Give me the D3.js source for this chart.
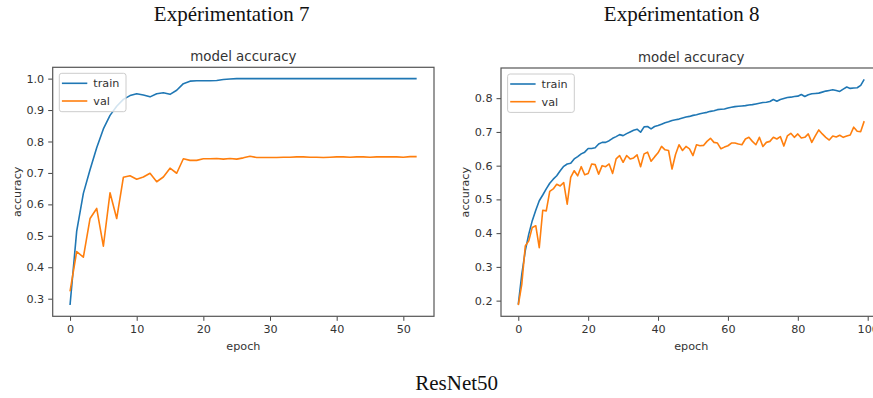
<!DOCTYPE html>
<html>
<head>
<meta charset="utf-8">
<script src="https://cdn.jsdelivr.net/npm/d3@7/dist/d3.min.js"></script>
<style>
  html, body { margin: 0; padding: 0; background: #fff; overflow: hidden; }
  svg { display: block; }
</style>
</head>
<body>
<svg id="chart" width="873" height="398"></svg>
<script>
// ---------- Data ----------
const exp7Train = [0.280, 0.515, 0.635, 0.710, 0.780, 0.840, 0.883, 0.912, 0.934, 0.946,
  0.952, 0.948, 0.942, 0.952, 0.955, 0.950, 0.963, 0.984, 0.992, 0.993,
  0.993, 0.993, 0.994, 0.997, 0.999, 1.000, 1.000, 1.000, 1.000, 1.000,
  1.000, 1.000, 1.000, 1.000, 1.000, 1.000, 1.000, 1.000, 1.000, 1.000,
  1.000, 1.000, 1.000, 1.000, 1.000, 1.000, 1.000, 1.000, 1.000, 1.000,
  1.000, 1.000, 1.000];
const exp7Val = [0.323, 0.450, 0.432, 0.555, 0.587, 0.467, 0.637, 0.555, 0.686, 0.691,
  0.680, 0.687, 0.699, 0.672, 0.687, 0.715, 0.699, 0.745, 0.740, 0.740,
  0.745, 0.745, 0.746, 0.744, 0.746, 0.744, 0.748, 0.753, 0.749, 0.749,
  0.749, 0.749, 0.750, 0.750, 0.751, 0.751, 0.750, 0.750, 0.749, 0.750,
  0.751, 0.751, 0.750, 0.751, 0.751, 0.750, 0.751, 0.751, 0.751, 0.751,
  0.750, 0.752, 0.752];
const exp8Train = [0.189, 0.278, 0.348, 0.397, 0.437, 0.468, 0.496, 0.513, 0.531, 0.548,
  0.560, 0.570, 0.585, 0.598, 0.605, 0.607, 0.620, 0.627, 0.635, 0.640,
  0.651, 0.651, 0.653, 0.664, 0.669, 0.669, 0.674, 0.681, 0.686, 0.692,
  0.689, 0.695, 0.700, 0.705, 0.708, 0.699, 0.715, 0.716, 0.709, 0.716,
  0.719, 0.723, 0.727, 0.730, 0.734, 0.736, 0.738, 0.741, 0.744, 0.746,
  0.749, 0.751, 0.754, 0.756, 0.758, 0.761, 0.763, 0.766, 0.767, 0.768,
  0.771, 0.773, 0.775, 0.776, 0.777, 0.778, 0.780, 0.781, 0.783, 0.785,
  0.787, 0.788, 0.790, 0.796, 0.791, 0.796, 0.799, 0.802, 0.803, 0.805,
  0.806, 0.811, 0.805, 0.810, 0.813, 0.814, 0.815, 0.818, 0.821, 0.823,
  0.825, 0.823, 0.820, 0.827, 0.833, 0.829, 0.830, 0.831, 0.838, 0.856];
const exp8Val = [0.187, 0.248, 0.362, 0.377, 0.417, 0.422, 0.357, 0.468, 0.466, 0.524,
  0.531, 0.545, 0.540, 0.550, 0.486, 0.565, 0.585, 0.570, 0.597, 0.573,
  0.577, 0.605, 0.603, 0.575, 0.600, 0.597, 0.605, 0.577, 0.620, 0.630,
  0.610, 0.630, 0.620, 0.623, 0.632, 0.597, 0.635, 0.640, 0.613, 0.626,
  0.638, 0.657, 0.647, 0.645, 0.590, 0.633, 0.662, 0.645, 0.657, 0.650,
  0.630, 0.662, 0.659, 0.660, 0.672, 0.681, 0.669, 0.667, 0.650, 0.655,
  0.659, 0.667, 0.667, 0.664, 0.662, 0.679, 0.684, 0.672, 0.662, 0.684,
  0.657, 0.669, 0.672, 0.684, 0.679, 0.686, 0.658, 0.688, 0.696, 0.684,
  0.694, 0.682, 0.684, 0.694, 0.669, 0.688, 0.706, 0.694, 0.684, 0.676,
  0.688, 0.685, 0.690, 0.684, 0.688, 0.691, 0.714, 0.702, 0.701, 0.732];

const exp7XTicks = [0, 10, 20, 30, 40, 50];
const exp7YTicks = [0.3, 0.4, 0.5, 0.6, 0.7, 0.8, 0.9, 1.0];
const exp8XTicks = [0, 20, 40, 60, 80, 100];
const exp8YTicks = [0.2, 0.3, 0.4, 0.5, 0.6, 0.7, 0.8];

const seriesNames = ["train", "val"];
const seriesColors = ["#1f77b4", "#ff7f0e"];
const panelTitles = ["Expérimentation 7", "Expérimentation 8"];
const figureCaption = "ResNet50";
const axesTitle = "model accuracy";
const xLabel = "epoch";
const yLabel = "accuracy";

// ---------- Drawing ----------
const svg = d3.select("#chart");
const sansFont = "'DejaVu Sans', sans-serif";
const serifFont = "'Liberation Serif', 'Times New Roman', serif";

function drawPanel(opts) {
  const { left, right, top, bottom, train, val, xTicks, yTicks, yLabelX, caption, captionX } = opts;
  const n = train.length;
  const xMargin = (n - 1) * 0.05;
  const all = train.concat(val);
  const yMin = d3.min(all), yMax = d3.max(all);
  const yMargin = (yMax - yMin) * 0.05;

  const x = d3.scaleLinear().domain([-xMargin, n - 1 + xMargin]).range([left, right]);
  const y = d3.scaleLinear().domain([yMin - yMargin, yMax + yMargin]).range([bottom, top]);

  const g = svg.append("g");

  // Page title above the panel
  svg.append("text")
    .attr("x", captionX).attr("y", 21)
    .attr("text-anchor", "middle")
    .attr("font-family", serifFont).attr("font-size", 21)
    .attr("fill", "#111")
    .text(caption);

  // axes frame
  g.append("rect")
    .attr("x", left).attr("y", top)
    .attr("width", right - left).attr("height", bottom - top)
    .attr("fill", "#fff");

  const line = d3.line().x((d, i) => x(i)).y(d => y(d));
  const clipId = "clip" + Math.round(left);
  g.append("clipPath").attr("id", clipId)
    .append("rect").attr("x", left).attr("y", top)
    .attr("width", right - left).attr("height", bottom - top);

  [train, val].forEach((s, k) => {
    g.append("path")
      .datum(s)
      .attr("d", line)
      .attr("fill", "none")
      .attr("stroke", seriesColors[k])
      .attr("stroke-width", 1.6)
      .attr("stroke-linejoin", "round")
      .attr("clip-path", `url(#${clipId})`);
  });

  // axes with d3 axis generators
  const xAxis = g.append("g")
    .attr("transform", `translate(0,${bottom})`)
    .call(d3.axisBottom(x).tickValues(xTicks).tickSize(4.5).tickPadding(4).tickFormat(d3.format("d")));
  const yAxis = g.append("g")
    .attr("transform", `translate(${left},0)`)
    .call(d3.axisLeft(y).tickValues(yTicks).tickSize(4.5).tickPadding(4).tickFormat(d3.format(".1f")));
  [xAxis, yAxis].forEach(a => {
    a.select(".domain").remove();
    a.selectAll(".tick line").attr("stroke", "#444").attr("stroke-width", 1);
    a.selectAll(".tick text")
      .attr("font-family", sansFont).attr("font-size", 11.2).attr("fill", "#333");
  });

  // spines
  g.append("rect")
    .attr("x", left).attr("y", top)
    .attr("width", right - left).attr("height", bottom - top)
    .attr("fill", "none").attr("stroke", "#555").attr("stroke-width", 1.2);

  // axes title
  g.append("text")
    .attr("x", (left + right) / 2).attr("y", top - 6)
    .attr("text-anchor", "middle")
    .attr("font-family", sansFont).attr("font-size", 13.4).attr("fill", "#333")
    .text(axesTitle);

  // axis labels
  g.append("text")
    .attr("x", (left + right) / 2).attr("y", bottom + 34)
    .attr("text-anchor", "middle")
    .attr("font-family", sansFont).attr("font-size", 11.2).attr("fill", "#333")
    .text(xLabel);
  g.append("text")
    .attr("transform", `translate(${yLabelX},${(top + bottom) / 2}) rotate(-90)`)
    .attr("text-anchor", "middle")
    .attr("dy", "0.35em")
    .attr("font-family", sansFont).attr("font-size", 11.2).attr("fill", "#333")
    .text(yLabel);

  // legend
  const lg = g.append("g").attr("transform", `translate(${left + 6.6},${top + 6})`);
  lg.append("rect")
    .attr("x", 0).attr("y", 0).attr("width", 66.7).attr("height", 38.4)
    .attr("rx", 2.5)
    .attr("fill", "#fff").attr("fill-opacity", 0.8)
    .attr("stroke", "#ccc").attr("stroke-width", 1);
  seriesNames.forEach((name, k) => {
    const ly = 10 + k * 17.7;
    lg.append("line")
      .attr("x1", 2.6).attr("x2", 28)
      .attr("y1", ly).attr("y2", ly)
      .attr("stroke", seriesColors[k]).attr("stroke-width", 1.6);
    lg.append("text")
      .attr("x", 34).attr("y", ly + 4)
      .attr("font-family", sansFont).attr("font-size", 11.2).attr("fill", "#333")
      .text(name);
  });
}

drawPanel({
  left: 52.7, right: 434, top: 67.3, bottom: 316.3,
  train: exp7Train, val: exp7Val,
  xTicks: exp7XTicks, yTicks: exp7YTicks,
  yLabelX: 17, caption: panelTitles[0], captionX: 231.7
});
drawPanel({
  left: 501, right: 881.5, top: 68, bottom: 316.3,
  train: exp8Train, val: exp8Val,
  xTicks: exp8XTicks, yTicks: exp8YTicks,
  yLabelX: 465, caption: panelTitles[1], captionX: 681.7
});

svg.append("text")
  .attr("x", 456.7).attr("y", 390)
  .attr("text-anchor", "middle")
  .attr("font-family", serifFont).attr("font-size", 21)
  .attr("fill", "#111")
  .text(figureCaption);
</script>
</body>
</html>
